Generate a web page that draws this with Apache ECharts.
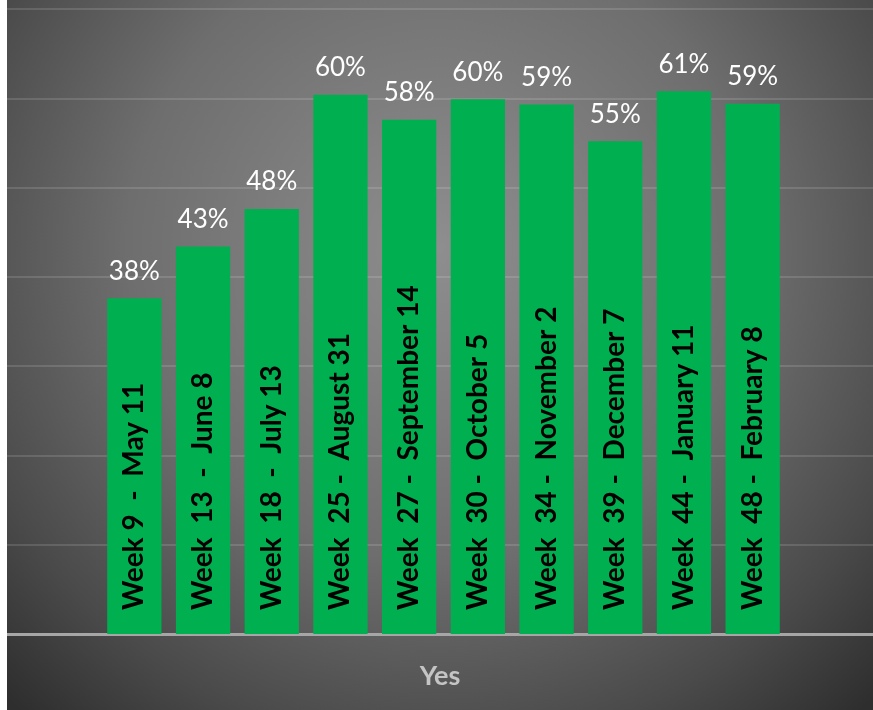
<!DOCTYPE html>
<html>
<head>
<meta charset="utf-8">
<script src="https://cdn.jsdelivr.net/npm/echarts@6/dist/echarts.min.js"></script>
<style>
  html, body { margin: 0; padding: 0; background: #fff; }
  #chart { position: absolute; left: 7px; top: 0; width: 866px; height: 710px; }
</style>
</head>
<body>
<div id="chart"></div>
<script>
// week ranges shown inside the bars
const weeks = [
  'Week 9  -  May 11',
  'Week  13  -  June 8',
  'Week  18  -  July 13',
  'Week  25 -  August 31',
  'Week  27 -  September 14',
  'Week  30 -  October 5',
  'Week  34 -  November 2',
  'Week  39 -  December 7',
  'Week  44 -  January 11',
  'Week  48 -  February 8'
]
// share answering "Yes"
const yesShare = [0.376, 0.434, 0.476, 0.604, 0.576, 0.599, 0.593, 0.552, 0.608, 0.594]
const groupName = 'Yes'

const chart = echarts.init(document.getElementById('chart'))

const option = {
  animation: false,
  backgroundColor: {
    type: 'radial', x: 0.5, y: 0.35, r: 0.88,
    colorStops: [
      {offset: 0, color: '#8e8e8e'},
      {offset: 0.5, color: '#6e6e6e'},
      {offset: 0.8, color: '#4a4a4a'},
      {offset: 1, color: '#2e2e2e'}
    ]
  },
  grid: [
    // full width: gridlines + axis line
    {left: 0, right: 0, top: 9, bottom: 76},
    // bars
    {left: 93, right: 86, top: 9, bottom: 76}
  ],
  xAxis: [
    {
      gridIndex: 0,
      type: 'value',
      min: 0,
      max: 1,
      axisLine: {show: true, lineStyle: {color: '#a6a6a6', width: 3}},
      axisTick: {show: false},
      axisLabel: {show: false},
      splitLine: {show: false},
      name: groupName,
      nameLocation: 'middle',
      nameGap: 29,
      nameTextStyle: {color: '#c4c4c4', fontSize: 27, fontWeight: 'bold', fontFamily: 'Lato'}
    },
    {
      gridIndex: 1,
      type: 'category',
      data: weeks,
      z: 10,
      axisLine: {show: false},
      axisTick: {show: false},
      axisLabel: {
        inside: true,
        rotate: 90,
        margin: 24,
        interval: 0,
        color: '#000',
        fontSize: 28,
        fontWeight: 'bold',
        fontFamily: 'Lato'
      }
    }
  ],
  yAxis: [
    {
      gridIndex: 0,
      type: 'value',
      min: 0,
      max: 0.7,
      interval: 0.1,
      axisLine: {show: false},
      axisTick: {show: false},
      axisLabel: {show: false},
      splitLine: {lineStyle: {color: 'rgba(255,255,255,0.13)', width: 2}}
    },
    {
      gridIndex: 1,
      type: 'value',
      min: 0,
      max: 0.7,
      interval: 0.1,
      axisLine: {show: false},
      axisTick: {show: false},
      axisLabel: {show: false},
      splitLine: {show: false}
    }
  ],
  series: [{
    type: 'bar',
    xAxisIndex: 1,
    yAxisIndex: 1,
    data: yesShare,
    barCategoryGap: '21%',
    itemStyle: {color: '#00b050'},
    label: {
      show: true,
      position: 'top',
      distance: 14,
      color: '#fff',
      fontSize: 26,
      fontFamily: 'Lato',
      formatter: p => Math.round(p.value * 100) + '%'
    }
  }]
}

chart.setOption(option)
</script>
</body>
</html>
